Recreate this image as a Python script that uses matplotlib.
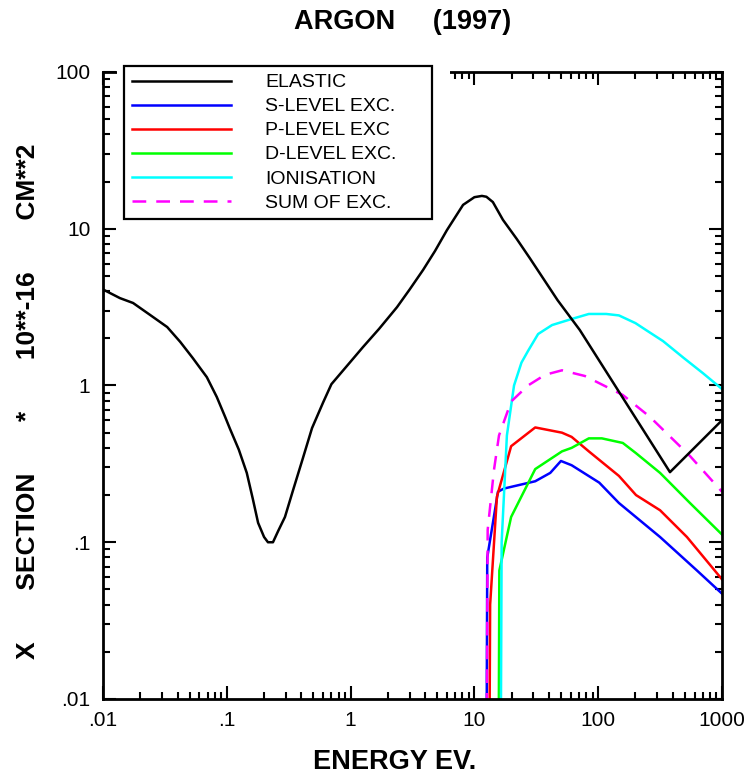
import matplotlib
matplotlib.use("Agg")
import matplotlib.pyplot as plt
import matplotlib.ticker as ticker
from matplotlib import font_manager
from matplotlib.patches import Rectangle
import numpy as np

# cross sections for argon (units of 1e-16 cm^2)
elastic_e = [0.01, 0.0137, 0.0175, 0.024, 0.033, 0.042, 0.053, 0.069, 0.083, 0.097,
             0.106, 0.125, 0.145, 0.162, 0.179, 0.2, 0.215, 0.236, 0.26, 0.295,
             0.343, 0.41, 0.488, 0.6, 0.7, 1.0, 1.26, 1.7, 2.37, 3.0,
             3.85, 4.8, 6.0, 8.1, 10.0, 11.5, 12.5, 14.1, 17.0, 22.0,
             28.0, 47.0, 71.0, 380.0, 1000.0]
elastic_x = [4.1, 3.61, 3.36, 2.82, 2.36, 1.9, 1.5, 1.13, 0.845, 0.63,
             0.53, 0.39, 0.277, 0.19, 0.133, 0.108, 0.1, 0.1, 0.118, 0.145,
             0.215, 0.34, 0.535, 0.78, 1.02, 1.42, 1.76, 2.3, 3.16, 4.1,
             5.46, 7.2, 9.8, 14.2, 15.9, 16.2, 16.0, 14.8, 11.4, 8.6,
             6.5, 3.5, 2.26, 0.28, 0.6]

s_e = [12.45, 12.7, 15.5, 17.3, 31.0, 41.0, 50.0, 61.0, 102.0, 147.0, 316.0, 628.0, 1000.0]
s_x = [0.001, 0.08, 0.21, 0.22, 0.245, 0.277, 0.33, 0.31, 0.24, 0.178, 0.108, 0.066, 0.047]

p_e = [13.1, 13.4, 15.2, 19.8, 31.0, 51.0, 61.0, 84.0, 147.0, 202.0, 316.0, 521.0, 1000.0]
p_x = [0.001, 0.04, 0.195, 0.41, 0.54, 0.5, 0.47, 0.38, 0.265, 0.2, 0.16, 0.108, 0.058]

d_e = [15.6, 15.9, 19.8, 31.0, 51.0, 61.0, 84.0, 107.0, 158.0, 202.0, 316.0, 551.0, 1000.0]
d_x = [0.001, 0.066, 0.145, 0.293, 0.38, 0.4, 0.46, 0.46, 0.43, 0.37, 0.277, 0.178, 0.112]

ion_e = [16.2, 16.6, 18.3, 20.9, 24.0, 27.1, 32.7, 42.4, 61.4, 84.0, 116.0, 147.0,
         200.0, 243.0, 334.0, 490.0, 700.0, 1000.0]
ion_x = [0.001, 0.1, 0.48, 1.0, 1.4, 1.66, 2.13, 2.43, 2.66, 2.86, 2.86, 2.8,
         2.5, 2.26, 1.92, 1.5, 1.2, 0.95]

sum_e = [12.45, 12.8, 14.4, 15.8, 19.8, 27.1, 37.2, 51.0, 78.0, 158.0, 262.0, 551.0, 1000.0]
sum_x = [0.001, 0.12, 0.29, 0.48, 0.79, 1.0, 1.17, 1.25, 1.15, 0.87, 0.63, 0.355, 0.21]

names = {f.name for f in font_manager.fontManager.ttflist}
narrow = "Liberation Sans Narrow" if "Liberation Sans Narrow" in names else "Liberation Sans"
plt.rcParams["font.family"] = ["Liberation Sans", "DejaVu Sans"]

W, H = 748, 777
fig = plt.figure(figsize=(W / 100, H / 100), dpi=100)
ax = fig.add_axes([103 / W, 1 - 699 / H, 619 / W, 627 / H])

lw = 1.8
lines = []
lines += ax.plot(elastic_e, elastic_x, color="black", lw=lw, zorder=5)
lines += ax.plot(s_e, s_x, color="#0000ff", lw=lw)
lines += ax.plot(p_e, p_x, color="#ff0000", lw=lw)
lines += ax.plot(d_e, d_x, color="#00ff00", lw=lw)
lines += ax.plot(ion_e, ion_x, color="#00ffff", lw=lw)
lines += ax.plot(sum_e, sum_x, color="#ff00ff", lw=lw, ls=(0, (5.5, 4)))
labels = ["ELASTIC", "S-LEVEL EXC.", "P-LEVEL EXC", "D-LEVEL EXC.", "IONISATION", "SUM OF EXC."]

ax.set_xscale("log")
ax.set_yscale("log")
ax.set_xlim(0.01, 1000)
ax.set_ylim(0.01, 100)

fmt = ticker.FuncFormatter(lambda v, _: ("%g" % v).lstrip("0") if v < 1 else "%g" % v)
for axis in (ax.xaxis, ax.yaxis):
    axis.set_major_locator(ticker.LogLocator(base=10, numticks=20))
    axis.set_minor_locator(ticker.LogLocator(base=10, subs=np.arange(2, 10), numticks=20))
    axis.set_major_formatter(fmt)
    axis.set_minor_formatter(ticker.NullFormatter())

ax.tick_params(which="both", direction="in", top=True, right=True, width=1.5, labelsize=15)
ax.tick_params(which="major", length=9.5)
ax.tick_params(which="minor", length=5)
ax.tick_params(axis="x", pad=9)
ax.tick_params(axis="y", pad=9)
for sp in ax.spines.values():
    sp.set_linewidth(2.0)

# the top axis is blanked where the legend sits
fig.add_artist(Rectangle((117 / W, 1 - 90 / H), (450 - 117) / W, 24 / H,
                         transform=fig.transFigure, facecolor="white",
                         edgecolor="none", zorder=2))

leg = fig.legend(lines, labels, loc="upper left",
                 bbox_to_anchor=(124 / W, 1 - 217 / H, 308 / W, 151 / H),
                 mode="expand", borderaxespad=0, fontsize=14,
                 handlelength=5.1, handletextpad=1.75, labelspacing=0.33,
                 borderpad=0.4, fancybox=False, framealpha=1, edgecolor="black")
leg.get_frame().set_linewidth(1.6)
leg.set_zorder(5)

fig.text(403 / W, 1 - 22 / H, "ARGON     (1997)", ha="center", va="center",
         fontsize=19.5, fontweight="bold")
fig.text(395 / W, 1 - 762 / H, "ENERGY EV.", ha="center", va="center",
         fontsize=22.5 if narrow != "Liberation Sans" else 19.5,
         fontweight="bold", family=[narrow, "DejaVu Sans"])
fig.text(28 / W, 1 - 401 / H, "X       SECTION       *       10**-16       CM**2",
         ha="center", va="center", rotation=90, fontsize=19, fontweight="bold")

fig.savefig("out.png", dpi=100)
